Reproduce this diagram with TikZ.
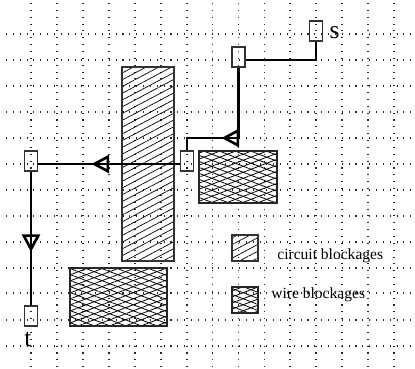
\documentclass[tikz,border=0pt]{standalone}
\usepackage{fontspec}
\setmainfont{Liberation Serif}
\usetikzlibrary{arrows.meta, positioning, shapes.geometric, patterns.meta}
\begin{document}
\begin{tikzpicture}[x=0.02cm, y=-0.02cm,
    gridline/.style={line width=0.6pt, black!85, dash pattern=on 0.6pt off 3.3pt},
    pin/.style     ={rectangle, draw=black!80, fill=none, line width=0.8pt, inner sep=0pt, minimum width=0.26cm, minimum height=0.4cm},
    wire/.style    ={line width=1.6pt},
    buffer/.style  ={isosceles triangle, isosceles triangle stretches, draw=black, line width=1.5pt, inner sep=0pt, minimum width=0.29cm, minimum height=0.27cm, anchor=center},
    circuit/.style ={rectangle, draw=black!80, line width=0.7pt, pattern={Lines[angle=28, distance=3.4pt, line width=0.4pt]}},
    wireblk/.style ={rectangle, draw=black!85, line width=0.9pt, preaction={pattern={Lines[angle=21, distance=3.2pt, line width=0.45pt]}}, pattern={Lines[angle=-21, distance=3.2pt, line width=0.45pt]}},
    legend/.style  ={font=\fontsize{8.85}{10}\selectfont, inner sep=0pt, anchor=west},
    plabel/.style  ={font=\fontsize{14.5}{16}\selectfont, inner sep=0pt}
]
\useasboundingbox (0,0) rectangle (415,368);
% --- routing grid ---
\foreach \gx in {31,57,83,109,135,161,187,212.5,238.5,264.5,290,316,342,368,394} {
  \draw[gridline] (\gx,3) -- (\gx,368);
}
\foreach \gy in {34,60,86,112,138,164,190,216,242,268,293,320,346} {
  \draw[gridline] (6,\gy) -- (415,\gy);
}
% --- blockages ---
\node[circuit, inner sep=0pt, minimum width=1.04cm, minimum height=3.88cm] (cblk) at (148,164) {};
\node[wireblk, inner sep=0pt, minimum width=1.56cm, minimum height=1.04cm] (wblkA) at (238,177) {};
\node[wireblk, inner sep=0pt, minimum width=1.94cm, minimum height=1.16cm] (wblkB) at (118.5,297) {};
% --- pins ---
\node[pin] (s)    at (316,31)  {};
\node[pin] (pinb) at (238.5,57) {};
\node[pin] (pinc) at (187,161) {};
\node[pin] (pind) at (31,161)  {};
\node[pin] (t)    at (31,316)  {};
\node[plabel] (slabel) at (334.5,33) {s};
\node[plabel] (tlabel) at (28,339) {t};
% --- wires ---
\coordinate (bends) at (316,60);
\coordinate (bendc) at (187,138);
\coordinate (bendb) at (238.5,138);
\coordinate (rowc)  at (187,164);
\coordinate (rowd)  at (31,164);
\draw[wire] (s.south) -- (bends) -- (pinb.east |- bends);
\draw[wire] (pinb.south) -- (bendb) -- (bendc) -- (pinc.north);
\draw[wire] (pinc.west |- rowc) -- (pind.east |- rowd);
\draw[wire] (pind.south) -- (t.north);
% --- buffers ---
\node[buffer, shape border rotate=180] (bufa) at (233.5,138) {};
\node[buffer, shape border rotate=180] (bufb) at (103.5,164) {};
\node[buffer, shape border rotate=-90] (bufc) at (31,240) {};
% --- legend ---
\node[circuit, inner sep=0pt, minimum width=0.52cm, minimum height=0.52cm] (lgc) at (245,248) {};
\node[wireblk, inner sep=0pt, minimum width=0.52cm, minimum height=0.52cm] (lgw) at (245,300) {};
\node[legend] (lgctext) at (277,256) {circuit blockages};
\node[legend] (lgwtext) at (271,295) {wire blockages};
\end{tikzpicture}
\end{document}
